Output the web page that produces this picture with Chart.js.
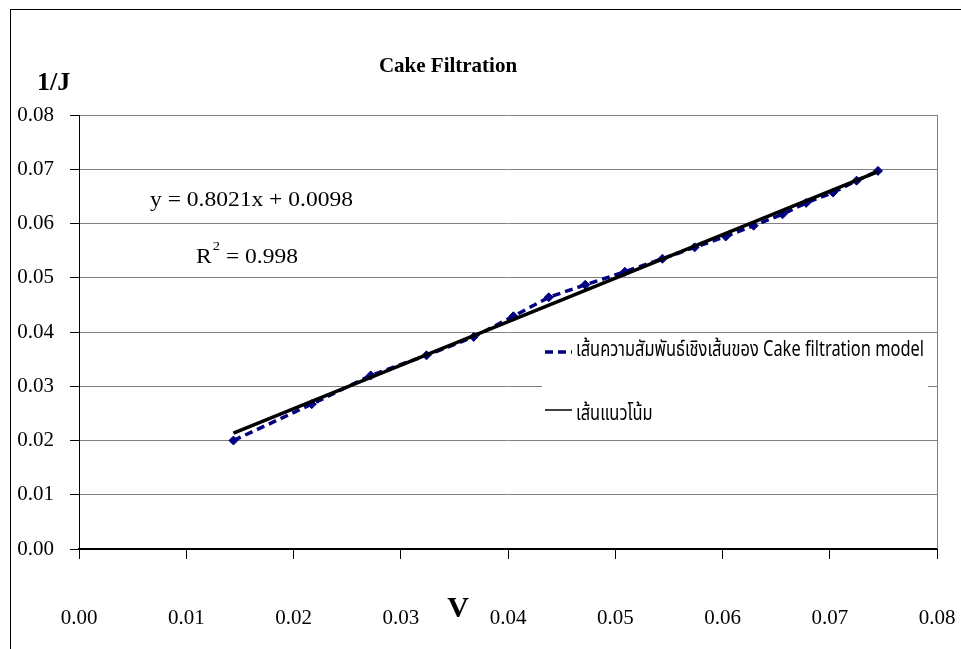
<!DOCTYPE html>
<html>
<head>
<meta charset="utf-8">
<title>Cake Filtration</title>
<script src="https://cdn.jsdelivr.net/npm/chart.js@4.4.1/dist/chart.umd.min.js"></script>
<style>
  html, body { margin: 0; padding: 0; background: #fff; }
  #wrap { width: 961px; height: 649px; }
</style>
</head>
<body>
<div id="wrap"><canvas id="cakeChart" width="961" height="649"></canvas></div>
<script>
// filtrate volume V and reciprocal flux 1/J
const volume = [0.0144, 0.0217, 0.0272, 0.0324, 0.0368, 0.0405, 0.0438, 0.0472, 0.0509,
                0.0544, 0.0574, 0.0603, 0.0629, 0.0656, 0.0678, 0.0703, 0.0725, 0.0745];
const invFlux = [0.0200, 0.0267, 0.0320, 0.0357, 0.0391, 0.0429, 0.0464, 0.0487, 0.0511,
                 0.0535, 0.0556, 0.0576, 0.0596, 0.0617, 0.0638, 0.0657, 0.0679, 0.0697];

// linear fit reported on the chart
const slope = 0.8021;
const intercept = 0.0098;
const rSquared = '0.998';

const axisTicks = [0.00, 0.01, 0.02, 0.03, 0.04, 0.05, 0.06, 0.07, 0.08];

const seriesLabels = ['เส้นความสัมพันธ์เชิงเส้นของ Cake filtration model', 'เส้นแนวโน้ม'];

const serif = '"Liberation Serif", "Times New Roman", serif';
const thaiFont = '"Noto Sans Thai", "Noto Sans", "DejaVu Sans Condensed", sans-serif';

const measured = volume.map((v, i) => ({ x: v, y: invFlux[i] }));
const xFirst = volume[0];
const xLast = volume[volume.length - 1];
const trend = [
    { x: xFirst, y: slope * xFirst + intercept },
    { x: xLast, y: slope * xLast + intercept }
];

// frame, titles, equation and legend box drawn straight on the canvas
const decorations = {
    id: 'decorations',
    beforeDraw(chart) {
        const ctx = chart.ctx;
        ctx.save();
        ctx.fillStyle = '#fff';
        ctx.fillRect(0, 0, chart.width, chart.height);
        ctx.strokeStyle = '#000';
        ctx.lineWidth = 1;
        ctx.strokeRect(10.5, 9.5, chart.width + 20, chart.height + 20);
        ctx.restore();
    },
    beforeDatasetsDraw(chart) {
        const ctx = chart.ctx;
        const area = chart.chartArea;
        ctx.save();
        // right edge of the plot area
        ctx.strokeStyle = '#808080';
        ctx.lineWidth = 1;
        ctx.beginPath();
        ctx.moveTo(Math.round(area.right) + 0.5, area.top);
        ctx.lineTo(Math.round(area.right) + 0.5, area.bottom);
        ctx.stroke();
        // legend background hides the gridlines behind it
        ctx.fillStyle = '#fff';
        ctx.fillRect(542, 338, 386, 99);
        ctx.restore();
    },
    afterDraw(chart) {
        const ctx = chart.ctx;
        ctx.save();
        ctx.fillStyle = '#000';
        ctx.textBaseline = 'middle';

        ctx.textAlign = 'center';
        ctx.font = 'bold 21px ' + serif;
        ctx.fillText('Cake Filtration', 448, 67);

        ctx.textAlign = 'left';
        ctx.font = 'bold 26px ' + serif;
        ctx.fillText('1/J', 37, 83);

        ctx.textAlign = 'center';
        ctx.font = 'bold 30px ' + serif;
        ctx.fillText('V', 458, 609);

        // fit equation and R², a little wider than the plain face
        ctx.save();
        ctx.textAlign = 'left';
        ctx.translate(150, 0);
        ctx.scale(1.12, 1);
        ctx.font = '21px ' + serif;
        const eq = 'y = ' + slope.toFixed(4) + 'x + ' + intercept.toFixed(4);
        ctx.fillText(eq, 0, 200);
        let x = 41;
        ctx.fillText('R', x, 257);
        x += ctx.measureText('R').width;
        ctx.font = '13px ' + serif;
        ctx.fillText('2', x + 1, 247);
        x += ctx.measureText('2').width + 1;
        ctx.font = '21px ' + serif;
        ctx.fillText(' = ' + rSquared, x, 257);
        ctx.restore();

        // legend samples
        const ds = chart.data.datasets;
        ctx.strokeStyle = ds[1].borderColor;
        ctx.lineWidth = 3.5;
        ctx.setLineDash([8, 5]);
        ctx.beginPath();
        ctx.moveTo(545, 352);
        ctx.lineTo(572, 352);
        ctx.stroke();
        ctx.setLineDash([]);
        ctx.strokeStyle = ds[0].borderColor;
        ctx.lineWidth = 1.5;
        ctx.beginPath();
        ctx.moveTo(545, 410);
        ctx.lineTo(572, 410);
        ctx.stroke();

        // legend text, squeezed into a narrow face
        ctx.textAlign = 'left';
        ctx.font = '22px ' + thaiFont;
        const sx = 348 / ctx.measureText(seriesLabels[0]).width;
        ctx.translate(576, 0);
        ctx.scale(sx, 1);
        ctx.fillText(seriesLabels[0], 0, 352);
        ctx.fillText(seriesLabels[1], 0, 416);
        ctx.restore();
    }
};

new Chart(document.getElementById('cakeChart'), {
    type: 'scatter',
    data: {
        datasets: [{
            label: seriesLabels[1],
            data: trend,
            showLine: true,
            borderColor: '#000',
            borderWidth: 3.5,
            pointRadius: 0,
            fill: false
        }, {
            label: seriesLabels[0],
            data: measured,
            showLine: true,
            borderColor: '#000080',
            backgroundColor: '#000080',
            borderWidth: 3.5,
            borderDash: [8, 5],
            pointStyle: 'rectRot',
            pointRadius: 4.5,
            pointBorderWidth: 1,
            fill: false
        }]
    },
    options: {
        responsive: false,
        animation: false,
        layout: { padding: { top: 115, right: 24, bottom: 0, left: 10 } },
        plugins: {
            legend: { display: false },
            tooltip: { enabled: false }
        },
        scales: {
            x: {
                type: 'linear',
                min: 0,
                max: 0.08,
                afterBuildTicks: scale => { scale.ticks = axisTicks.map(v => ({ value: v })); },
                afterFit: scale => {
                    scale.height = 100;
                    // the big label gap should not eat into the side margins
                    scale.paddingLeft = 0;
                    scale.paddingRight = 18;
                },
                border: { color: '#000', width: 2 },
                grid: { drawOnChartArea: false, drawTicks: true, tickLength: 10, tickColor: '#000' },
                ticks: {
                    padding: 47,
                    color: '#000',
                    font: { family: serif, size: 21 },
                    callback: v => v.toFixed(2)
                }
            },
            y: {
                type: 'linear',
                min: 0,
                max: 0.08,
                afterBuildTicks: scale => { scale.ticks = axisTicks.map(v => ({ value: v })); },
                afterFit: scale => { scale.width = 69; },
                border: { color: '#000', width: 1 },
                grid: { color: '#808080', lineWidth: 1, tickLength: 9, tickColor: '#000' },
                ticks: {
                    padding: 16,
                    color: '#000',
                    font: { family: serif, size: 21 },
                    callback: v => v.toFixed(2)
                }
            }
        }
    },
    plugins: [decorations]
});
</script>
</body>
</html>
